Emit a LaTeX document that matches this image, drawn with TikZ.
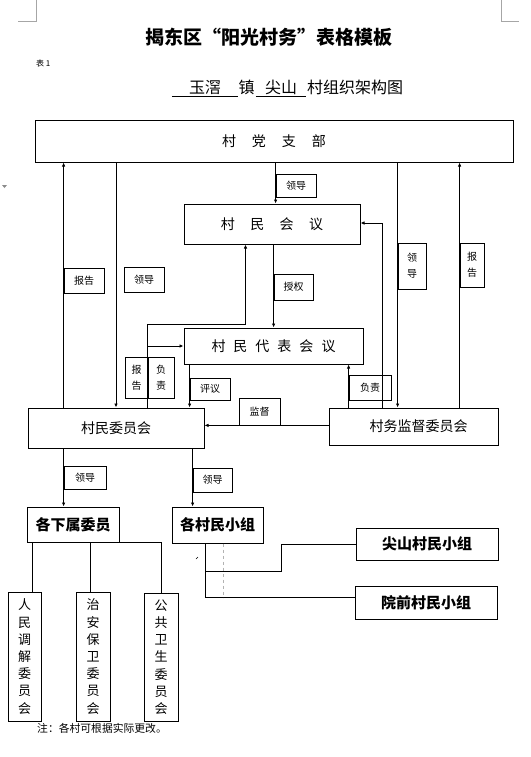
\documentclass[tikz,border=0pt]{standalone}
\usepackage{fontspec}
\setmainfont{Noto Sans CJK SC}
\usepackage{tikz}
\usetikzlibrary{arrows.meta,calc}

\begin{document}
\begin{tikzpicture}[
    x=1pt, y=-1pt,
    box/.style={draw, line width=1pt, inner sep=0pt, font=\fontsize{14}{14}\selectfont},
    bbox/.style={box, font=\fontsize{15}{15}\selectfont\bfseries},
    vbox/.style={box, align=center, minimum width=34pt, minimum height=129pt, font=\fontsize{13}{17.2}\selectfont},
    tag/.style={draw, line width=0.8pt, inner sep=0pt, minimum width=40pt, minimum height=24pt, font=\fontsize{10}{10}\selectfont},
    vtag/.style={tag, align=center, font=\fontsize{10}{16}\selectfont},
    link/.style={line width=0.8pt},
    arr/.style={link, -{Latex[length=4pt,width=3.5pt]}},
    cropline/.style={line width=0.6pt, draw=black!35},
    plain/.style={inner sep=0pt}
]
\useasboundingbox (0,0) rectangle (530,757);

% page corners
\draw[cropline] (36,0) -- (36,21) -- (18,21);
\draw[cropline] (501,0) -- (501,21) -- (519,21);
\fill[black!45] (2,185) -- (7,185) -- (4.5,188) -- cycle;

% heading
\node[plain, font=\fontsize{19}{19}\selectfont\bfseries] (title) at (269,37) {揭东区“阳光村务”表格模板};
\node[plain, anchor=west, font=\fontsize{8}{8}\selectfont] (tabno) at (36,63) {表 1};
\node[plain, minimum width=66pt, minimum height=18pt, font=\fontsize{16}{16}\selectfont] (town) at (205,87) {玉滘};
\node[plain, font=\fontsize{16}{16}\selectfont] (zhen) at (246.5,87) {镇};
\node[plain, minimum width=50pt, minimum height=18pt, font=\fontsize{16}{16}\selectfont] (vill) at (281,87) {尖山};
\node[plain, anchor=west, font=\fontsize{16}{16}\selectfont] (chart) at (307,87) {村组织架构图};
\draw[line width=0.8pt] (town.south west) -- (town.south east);
\draw[line width=0.8pt] (vill.south west) -- (vill.south east);

% main boxes
\node[box, minimum width=478pt, minimum height=41pt] (party) at (274,141.5) {村\hspace{16pt}党\hspace{16pt}支\hspace{16pt}部};
\node[box, minimum width=176pt, minimum height=40pt] (meeting) at (272,224) {村\hspace{15.5pt}民\hspace{15.5pt}会\hspace{15.5pt}议};
\node[box, minimum width=179pt, minimum height=36pt] (reps) at (273.5,346) {村\hspace{8pt}民\hspace{8pt}代\hspace{8pt}表\hspace{8pt}会\hspace{8pt}议};
\node[box, minimum width=176pt, minimum height=40pt] (committee) at (116,428) {村民委员会\hspace{8pt}};
\node[box, minimum width=169pt, minimum height=37pt] (supervise) at (413.5,426.5) {\hspace{10pt}村务监督委员会};
\node[bbox, minimum width=92pt, minimum height=35pt] (sub) at (73,524.5) {各下属委员};
\node[bbox, minimum width=91pt, minimum height=36pt] (groups) at (217.5,525) {各村民小组};
\node[bbox, minimum width=142pt, minimum height=32pt] (jianshan) at (427,544) {\raisebox{-3pt}{尖山村民小组}};
\node[bbox, minimum width=142pt, minimum height=33pt] (yuanqian) at (426,602.5) {\raisebox{-4pt}{院前村民小组}};
\node[vbox, minimum width=33pt] (mediation) at (24.5,656.5) {人\\民\\调\\解\\委\\员\\会};
\node[vbox] (security) at (93,656.5) {治\\安\\保\\卫\\委\\员\\会};
\node[vbox, minimum height=128pt] (health) at (161,657) {公\\共\\卫\\生\\委\\员\\会};

% connector labels
\node[tag, minimum height=25pt] (t1) at (84,280.5) {报告};
\node[tag, minimum height=25pt] (t2) at (144,279.5) {领导};
\node[tag, minimum height=23pt] (t3) at (296,185.5) {领导};
\node[vtag, minimum width=28pt, minimum height=46pt] (t4) at (412,266) {领\\导};
\node[vtag, minimum width=24pt, minimum height=44pt] (t5) at (472,265) {报\\告};
\node[tag, minimum width=39pt, minimum height=26pt] (t6) at (293.5,287) {授权};
\node[vtag, minimum width=23pt, minimum height=41pt] (t7) at (136.5,377.5) {报\\告};
\node[vtag, minimum width=26pt, minimum height=41pt] (t8) at (161,377.5) {负\\责};
\node[tag, minimum height=22pt] (t9) at (210,389) {评议};
\node[tag, minimum width=41pt, minimum height=27pt] (t10) at (259.5,411.5) {监督};
\node[tag, minimum width=42pt, minimum height=25pt] (t11) at (370,387.5) {负责};
\node[tag, minimum width=42pt, minimum height=23pt] (t12) at (85,477.5) {领导};
\node[tag, minimum width=39pt, minimum height=24pt] (t13) at (212.5,480) {领导};

% helper points
\coordinate (sm) at (382,223);
\coordinate (ca) at (245.5,324.5);
\coordinate (m1) at (32.5,0);
\coordinate (m2) at (90.5,0);
\coordinate (g1) at (205.5,597.5);
\coordinate (g2) at (281,571);
\coordinate (gd) at (223,0);

% upper part
\draw[arr] (committee.north -| t1.west) -- (t1.west |- party.south);
\draw[arr] (party.south -| committee.north) -- (committee.north);
\draw[arr] (party.south -| t3.west) -- (meeting.north -| t3.west);
\draw[arr] (party.south -| t4.west) -- (supervise.north -| t4.west);
\draw[arr] (supervise.north -| t5.west) -- (party.south -| t5.west);
\draw[arr] (supervise.north -| sm) -- (sm) -- (meeting.east |- sm);
\draw[arr] (meeting.south -| t6.west) -- (reps.north -| t6.west);
\draw[arr] (committee.north -| t8.west) |- (ca) -- (ca |- meeting.south);
\draw[arr] (t8.west |- reps.west) -- (reps.west);
\draw[arr] (reps.south -| t9.west) -- (committee.north -| t9.west);
\draw[arr] (supervise.west |- t10.south) -- (committee.east |- t10.south);
\draw[arr] (supervise.north -| t11.west) -- (reps.south -| t11.west);

% lower part
\draw[arr] (committee.south -| t12.west) -- (sub.north -| t12.west);
\draw[arr] (committee.south -| t13.west) -- (groups.north -| t13.west);
\draw[link] (sub.south -| m1) -- (mediation.north -| m1);
\draw[link] (sub.south -| m2) -- (security.north -| m2);
\draw[link] ([xshift=-7pt]sub.south east) -| (health.north);
\draw[link] (groups.south -| g1) -- (g1) -- (g1 -| yuanqian.west);
\draw[link] (g1 |- g2) -- (g2) |- (jianshan.west);
\draw[black!30, line width=0.6pt, dashed] (groups.south -| gd) -- (g1 -| gd);
\draw[line width=1.2pt] (g1) -- (g1 -| gd);
\draw[line width=0.6pt] (196,559) -- (198,557);

% footnote
\node[plain, anchor=west, font=\fontsize{10.8}{10.8}\selectfont] (note) at (37,728) {注：各村可根据实际更改。};

\end{tikzpicture}
\end{document}
